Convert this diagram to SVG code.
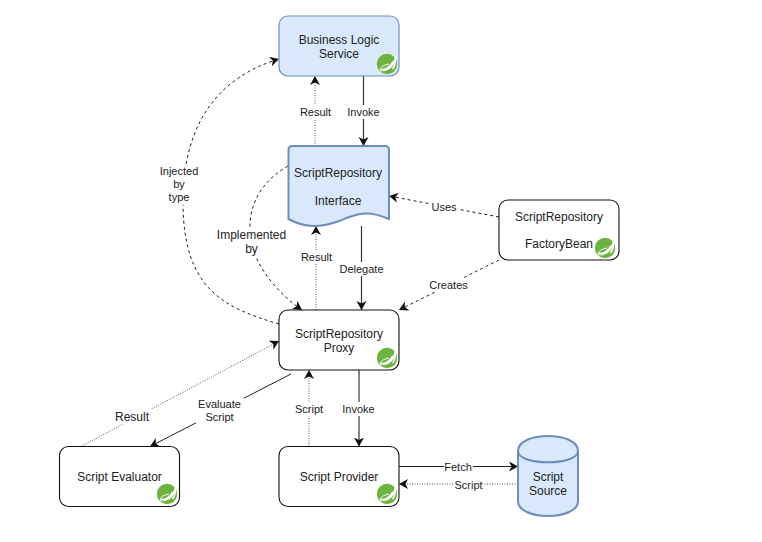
<svg xmlns="http://www.w3.org/2000/svg" width="762" height="542" viewBox="0 0 762 542">
<style>
text{font-family:"Liberation Sans",Arial,sans-serif;fill:#222;text-anchor:middle}
.n{font-size:12px}
.l{font-size:11px}
.box{fill:#fff;stroke:#111;stroke-width:1.1}
.blue{fill:#dae8fc;stroke:#6c8ebf;stroke-width:1.2}
.thick{stroke-width:2}
.c{fill:none;stroke:#222;stroke-width:1}
.s{stroke:#333;stroke-width:1.2}
.da{stroke-dasharray:3 3}
.do{stroke:#555;stroke-dasharray:1 1.5}
.bg{fill:#fff}
</style>
<defs>
<marker id="a" markerUnits="userSpaceOnUse" markerWidth="12" markerHeight="12" refX="9" refY="5" orient="auto"><path d="M0 0L9 5L0 10L2.5 5Z" fill="#111"/></marker>
<g id="spring">
<circle cx="0" cy="0" r="10.2" fill="#6db33f"/>
<path d="M8.500 -8C9 1 3 8 -7 7.500C-2 7 5 3 8.500 -8Z" fill="#fff"/>
<path d="M-6.500 7.500C-8 3 -3 1 2 0" fill="none" stroke="#fff" stroke-width="1"/>
<path d="M-6 5.500C-3 6 3 4 6 -2" fill="none" stroke="#fff" stroke-width="1.800"/>
<path d="M8.500 -8C9 -2 8 2 5.500 5" fill="none" stroke="#fff" stroke-width="1.500"/>
</g>
</defs>
<rect width="762" height="542" fill="#fff"/>
<g id="connectors">
<path class="c do" d="M315 146V76" marker-end="url(#a)"/>
<path class="c s" d="M363.500 76V146" marker-end="url(#a)"/>
<path class="c da" d="M279 324C225 308 184 290 183 205C182 120 222 76 279 59" marker-end="url(#a)"/>
<path class="c da" d="M288 166C255 185 245 215 252 245C258 270 280 295 302 310" marker-end="url(#a)"/>
<path class="c do" d="M316 310V226" marker-end="url(#a)"/>
<path class="c s" d="M361.500 226V310" marker-end="url(#a)"/>
<path class="c da" d="M499 217L389 196" marker-end="url(#a)"/>
<path class="c da" d="M499 260L399 310" marker-end="url(#a)"/>
<path class="c do" d="M81 446.500L279 341" marker-end="url(#a)"/>
<path class="c" d="M291 374L150 446.500" marker-end="url(#a)"/>
<path class="c do" d="M309 446.500V370" marker-end="url(#a)"/>
<path class="c s" d="M359 370V446.500" marker-end="url(#a)"/>
<path class="c" d="M399 466.500H518" marker-end="url(#a)"/>
<path class="c do" d="M518 484H399" marker-end="url(#a)"/>
</g>
<g id="connector-labels">
<rect class="bg" x="298" y="105" width="36" height="14"/><text class="l" x="315.500" y="116">Result</text>
<rect class="bg" x="346" y="105" width="36" height="14"/><text class="l" x="363.500" y="116">Invoke</text>
<rect class="bg" x="158" y="165" width="44" height="40"/><text class="l" x="179" y="175">Injected</text><text class="l" x="179" y="188">by</text><text class="l" x="179" y="201">type</text>
<rect class="bg" x="216" y="228" width="72" height="28"/><text class="n" x="251.500" y="239">Implemented</text><text class="n" x="251.500" y="253">by</text>
<rect class="bg" x="300" y="250" width="34" height="14"/><text class="l" x="316.500" y="261">Result</text>
<rect class="bg" x="339" y="262" width="45" height="14"/><text class="l" x="361.500" y="273">Delegate</text>
<rect class="bg" x="431" y="201" width="27" height="13"/><text class="l" x="444" y="211">Uses</text>
<rect class="bg" x="428" y="278" width="41" height="14"/><text class="l" x="448.500" y="289">Creates</text>
<rect class="bg" x="112" y="409" width="40" height="15"/><text class="n" x="132" y="421">Result</text>
<rect class="bg" x="196" y="398" width="48" height="28"/><text class="l" x="219.500" y="408">Evaluate</text><text class="l" x="219.500" y="421">Script</text>
<rect class="bg" x="293" y="402" width="33" height="14"/><text class="l" x="309" y="413">Script</text>
<rect class="bg" x="341" y="402" width="36" height="14"/><text class="l" x="358.500" y="413">Invoke</text>
<rect class="bg" x="444" y="460" width="29" height="14"/><text class="l" x="458" y="471">Fetch</text>
<rect class="bg" x="454" y="478" width="29" height="14"/><text class="l" x="468.500" y="489">Script</text>
</g>
<g id="business-logic-service">
<rect class="blue" x="279" y="16" width="120" height="60" rx="9"/>
<text class="n" x="339" y="44">Business Logic</text><text class="n" x="339" y="58">Service</text>
<use href="#spring" x="387" y="64"/>
</g>
<g id="script-repository-interface">
<path class="blue thick" d="M288.500 150Q288.500 146 292.500 146H385Q389 146 389 150V219C364 208 352 216 339 221C320 228 305 228 288.500 219Z"/>
<text class="n" x="338" y="177">ScriptRepository</text><text class="n" x="338" y="205">Interface</text>
</g>
<g id="script-repository-factory-bean">
<rect class="box" x="499" y="200" width="120" height="60" rx="9"/>
<text class="n" x="559" y="221">ScriptRepository</text><text class="n" x="559" y="248">FactoryBean</text>
<use href="#spring" x="605" y="248"/>
</g>
<g id="script-repository-proxy">
<rect class="box" x="279" y="310" width="120" height="60" rx="9"/>
<text class="n" x="339" y="338">ScriptRepository</text><text class="n" x="339" y="352">Proxy</text>
<use href="#spring" x="387" y="358"/>
</g>
<g id="script-evaluator">
<rect class="box" x="59.500" y="446.500" width="120" height="60" rx="9"/>
<text class="n" x="119.500" y="481">Script Evaluator</text>
<use href="#spring" x="167" y="494"/>
</g>
<g id="script-provider">
<rect class="box" x="279" y="446.500" width="120" height="60" rx="9"/>
<text class="n" x="339" y="481">Script Provider</text>
<use href="#spring" x="387" y="494"/>
</g>
<g id="script-source">
<path class="blue thick" d="M518 451C518 431 578 431 578 451V501C578 521 518 521 518 501Z"/>
<path class="blue thick" style="fill:none" d="M518 451C518 466 578 466 578 451"/>
<text class="n" x="548" y="481">Script</text><text class="n" x="548" y="495">Source</text>
</g>
</svg>
